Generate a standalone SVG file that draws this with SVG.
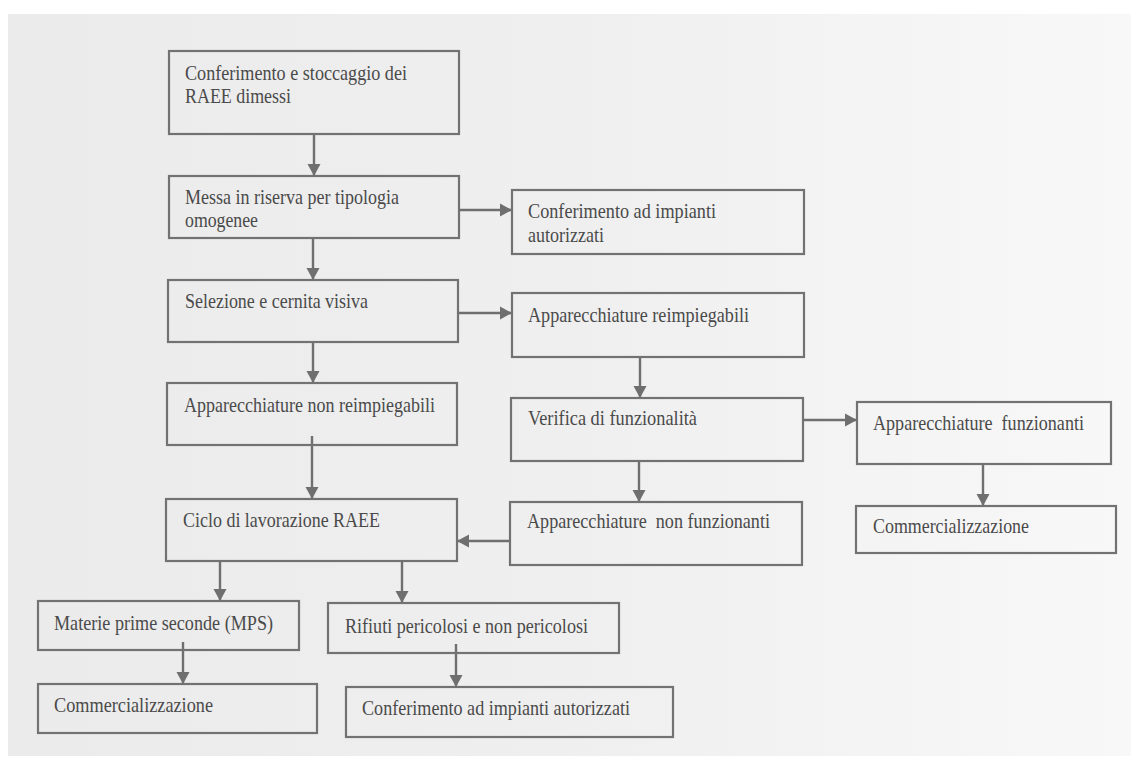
<svg xmlns="http://www.w3.org/2000/svg" width="1131" height="774" viewBox="0 0 1131 774">
<defs>
<linearGradient id="paper" x1="0" y1="0" x2="1" y2="0">
<stop offset="0" stop-color="#ebebeb"/>
<stop offset="0.5" stop-color="#efefef"/>
<stop offset="1" stop-color="#f8f8f8"/>
</linearGradient>
<marker id="ah" markerUnits="userSpaceOnUse" markerWidth="13" markerHeight="14" refX="12" refY="7" orient="auto">
<path d="M0,0.5 L12,7 L0,13.5 z" fill="#6f6f6f"/>
</marker>
<style>
.box{fill:none;stroke:#727272;stroke-width:2.2}
.lbl{font-family:"Liberation Serif","Times New Roman",serif;font-size:22px;fill:#4a4a4a}
.con{stroke:#6f6f6f;stroke-width:2.4;fill:none;marker-end:url(#ah)}
</style>
</defs>
<rect x="0" y="0" width="1131" height="774" fill="#ffffff"/>
<rect x="8" y="14" width="1123" height="742" fill="url(#paper)"/>

<g id="connectors">
<line class="con" x1="314" y1="134" x2="314" y2="176"/>
<line class="con" x1="459" y1="210" x2="512" y2="210"/>
<line class="con" x1="313" y1="238" x2="313" y2="280"/>
<line class="con" x1="458" y1="313" x2="512" y2="313"/>
<line class="con" x1="313" y1="342" x2="313" y2="383"/>
<line class="con" x1="312" y1="436" x2="312" y2="499"/>
<line class="con" x1="640" y1="357" x2="640" y2="398"/>
<line class="con" x1="803" y1="420" x2="857" y2="420"/>
<line class="con" x1="639" y1="461" x2="639" y2="502"/>
<line class="con" x1="510" y1="541" x2="457" y2="541"/>
<line class="con" x1="983" y1="464" x2="983" y2="506"/>
<line class="con" x1="220" y1="561" x2="220" y2="601"/>
<line class="con" x1="402" y1="561" x2="402" y2="603"/>
<line class="con" x1="183" y1="642" x2="183" y2="684"/>
<line class="con" x1="456" y1="644" x2="456" y2="687"/>
</g>

<g id="n1"><rect class="box" x="169" y="51" width="290" height="83"/>
<text class="lbl" x="185" y="80" textLength="222" lengthAdjust="spacingAndGlyphs">Conferimento e stoccaggio dei</text>
<text class="lbl" x="185" y="103" textLength="106" lengthAdjust="spacingAndGlyphs">RAEE dimessi</text></g>

<g id="n2"><rect class="box" x="169" y="176" width="290" height="62"/>
<text class="lbl" x="185" y="204" textLength="214" lengthAdjust="spacingAndGlyphs">Messa in riserva per tipologia</text>
<text class="lbl" x="185" y="227" textLength="73" lengthAdjust="spacingAndGlyphs">omogenee</text></g>

<g id="n3"><rect class="box" x="512" y="190" width="292" height="64"/>
<text class="lbl" x="528" y="218" textLength="188" lengthAdjust="spacingAndGlyphs">Conferimento ad impianti</text>
<text class="lbl" x="528" y="242" textLength="76" lengthAdjust="spacingAndGlyphs">autorizzati</text></g>

<g id="n4"><rect class="box" x="168" y="280" width="290" height="62"/>
<text class="lbl" x="185" y="308" textLength="183" lengthAdjust="spacingAndGlyphs">Selezione e cernita visiva</text></g>

<g id="n5"><rect class="box" x="512" y="293" width="292" height="64"/>
<text class="lbl" x="528" y="322" textLength="221" lengthAdjust="spacingAndGlyphs">Apparecchiature reimpiegabili</text></g>

<g id="n6"><rect class="box" x="167" y="383" width="290" height="62"/>
<text class="lbl" x="184" y="412" textLength="251" lengthAdjust="spacingAndGlyphs">Apparecchiature non reimpiegabili</text></g>

<g id="n7"><rect class="box" x="511" y="398" width="292" height="63"/>
<text class="lbl" x="528" y="425" textLength="169" lengthAdjust="spacingAndGlyphs">Verifica di funzionalità</text></g>

<g id="n8"><rect class="box" x="857" y="402" width="254" height="62"/>
<text class="lbl" x="873" y="430" textLength="211" lengthAdjust="spacingAndGlyphs" xml:space="preserve">Apparecchiature  funzionanti</text></g>

<g id="n9"><rect class="box" x="166" y="499" width="291" height="62"/>
<text class="lbl" x="183" y="527" textLength="197" lengthAdjust="spacingAndGlyphs">Ciclo di lavorazione RAEE</text></g>

<g id="n10"><rect class="box" x="510" y="502" width="292" height="63"/>
<text class="lbl" x="527" y="528" textLength="243" lengthAdjust="spacingAndGlyphs" xml:space="preserve">Apparecchiature  non funzionanti</text></g>

<g id="n11"><rect class="box" x="856" y="506" width="260" height="47"/>
<text class="lbl" x="873" y="533" textLength="156" lengthAdjust="spacingAndGlyphs">Commercializzazione</text></g>

<g id="n12"><rect class="box" x="38" y="601" width="261" height="49"/>
<text class="lbl" x="54" y="630" textLength="219" lengthAdjust="spacingAndGlyphs">Materie prime seconde (MPS)</text></g>

<g id="n13"><rect class="box" x="328" y="603" width="291" height="50"/>
<text class="lbl" x="345" y="633" textLength="243" lengthAdjust="spacingAndGlyphs">Rifiuti pericolosi e non pericolosi</text></g>

<g id="n14"><rect class="box" x="38" y="684" width="279" height="49"/>
<text class="lbl" x="54" y="712" textLength="159" lengthAdjust="spacingAndGlyphs">Commercializzazione</text></g>

<g id="n15"><rect class="box" x="346" y="687" width="327" height="50"/>
<text class="lbl" x="362" y="715" textLength="268" lengthAdjust="spacingAndGlyphs">Conferimento ad impianti autorizzati</text></g>
</svg>
